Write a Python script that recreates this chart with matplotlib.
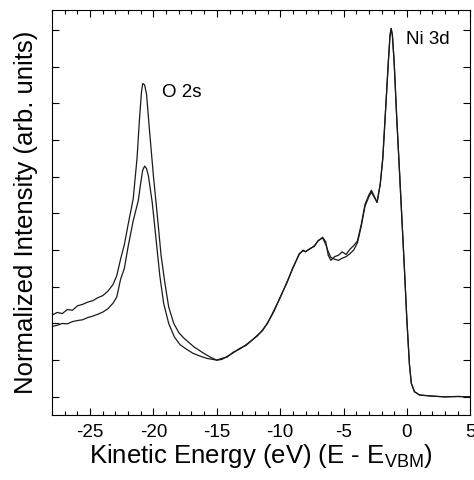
import numpy as np
import matplotlib
matplotlib.use("Agg")
import matplotlib.pyplot as plt
from matplotlib.ticker import MultipleLocator

plt.rcParams['font.family'] = ['Liberation Sans', 'DejaVu Sans']
plt.rcParams['mathtext.fontset'] = 'custom'
plt.rcParams['mathtext.rm'] = 'Liberation Sans'
plt.rcParams['axes.unicode_minus'] = False

# O 2s region, spectrum with the larger O 2s peak
o2s_energy_a = [-28.0, -27.6, -27.2, -26.8, -26.4, -26.0, -25.6, -25.2, -24.8, -24.4,
                -24.0, -23.6, -23.2, -22.9, -22.6, -22.3, -22.0, -21.6, -21.3, -21.1,
                -20.95, -20.85, -20.7, -20.55, -20.3, -20.0, -19.7, -19.4, -19.1, -18.8,
                -18.4, -18.0, -17.6, -17.2, -16.8, -16.4, -16.0, -15.5]
o2s_int_a = [2.23, 2.30, 2.27, 2.38, 2.36, 2.48, 2.52, 2.58, 2.62, 2.70,
             2.76, 2.88, 3.06, 3.30, 3.75, 4.15, 4.70, 5.40, 6.50, 7.60,
             8.30, 8.54, 8.50, 8.25, 7.20, 6.00, 4.95, 3.85, 3.10, 2.45,
             2.00, 1.75, 1.60, 1.48, 1.36, 1.27, 1.18, 1.08]

# O 2s region, spectrum with the smaller O 2s peak
o2s_energy_b = [-28.0, -27.6, -27.2, -26.8, -26.4, -26.0, -25.6, -25.2, -24.8, -24.4,
                -24.0, -23.6, -23.2, -22.9, -22.6, -22.3, -22.0, -21.6, -21.2, -21.0,
                -20.85, -20.7, -20.55, -20.4, -20.1, -19.8, -19.5, -19.2, -18.8, -18.35,
                -17.9, -17.4, -16.9, -16.4, -15.8]
o2s_int_b = [1.92, 1.95, 2.00, 1.99, 2.05, 2.08, 2.10, 2.16, 2.20, 2.25,
             2.31, 2.40, 2.55, 2.72, 3.20, 3.50, 4.10, 4.80, 5.35, 5.85,
             6.18, 6.29, 6.22, 6.02, 5.30, 4.30, 3.30, 2.55, 2.00, 1.63,
             1.42, 1.30, 1.19, 1.12, 1.05]

# valence band region (both spectra nearly identical)
vb_energy = [-15.0, -14.6, -14.2, -13.7, -13.2, -12.7, -12.2, -11.8, -11.4, -11.0,
             -10.5, -10.0, -9.5, -9.0, -8.5, -8.2, -8.0, -7.7, -7.3, -7.0,
             -6.65, -6.4, -6.2, -6.0, -5.7, -5.4, -5.1, -4.8, -4.5, -4.2,
             -3.9, -3.6, -3.3, -3.0, -2.8, -2.55, -2.35, -2.1, -1.9, -1.65,
             -1.45, -1.33, -1.24, -1.14, -1.0, -0.8, -0.6, -0.4, -0.2, 0.0,
             0.1, 0.2, 0.35, 0.6, 1.0, 2.0, 3.0, 4.0, 5.0]
vb_int_a = [1.00, 1.05, 1.08, 1.22, 1.30, 1.42, 1.55, 1.66, 1.82, 2.00,
            2.35, 2.70, 3.10, 3.50, 3.90, 3.98, 3.96, 4.02, 4.12, 4.25,
            4.35, 4.22, 3.85, 3.72, 3.82, 3.86, 3.95, 3.88, 4.02, 4.12,
            4.25, 4.70, 5.25, 5.50, 5.63, 5.45, 5.30, 5.80, 6.50, 8.00,
            9.20, 9.85, 10.04, 9.85, 9.10, 7.60, 6.27, 4.90, 3.54, 2.10,
            1.50, 0.90, 0.37, 0.14, 0.05, 0.02, 0.00, 0.01, 0.00]
vb_int_b = [1.00, 1.02, 1.10, 1.20, 1.32, 1.40, 1.55, 1.68, 1.80, 2.02,
            2.32, 2.72, 3.08, 3.52, 3.88, 4.00, 3.95, 4.03, 4.10, 4.26,
            4.33, 4.15, 3.95, 3.80, 3.75, 3.72, 3.78, 3.82, 3.90, 4.00,
            4.20, 4.65, 5.20, 5.45, 5.58, 5.42, 5.30, 5.80, 6.50, 8.00,
            9.20, 9.85, 10.04, 9.85, 9.10, 7.60, 6.27, 4.90, 3.54, 2.10,
            1.50, 0.90, 0.37, 0.14, 0.05, 0.02, 0.00, 0.01, 0.00]

energy_a = np.concatenate([o2s_energy_a, vb_energy])
intensity_a = np.concatenate([o2s_int_a, vb_int_a])
energy_b = np.concatenate([o2s_energy_b, vb_energy])
intensity_b = np.concatenate([o2s_int_b, vb_int_b])

fig = plt.figure(figsize=(4.74, 4.80), dpi=100)
ax = fig.add_axes([0.110, 0.135, 0.882, 0.844])

ax.plot(energy_a, intensity_a, color='#1a1a1a', lw=0.9)
ax.plot(energy_b, intensity_b, color='#1a1a1a', lw=0.9)

ax.set_xlim(-28, 5)
ax.set_ylim(-0.5, 10.54)
ax.xaxis.set_major_locator(MultipleLocator(5))
ax.xaxis.set_minor_locator(MultipleLocator(1))
ax.yaxis.set_major_locator(MultipleLocator(1))
ax.set_yticklabels([])
ax.tick_params(which='both', direction='in', top=True, right=True, width=0.8)
ax.tick_params(which='major', length=5, labelsize=13.5, pad=6)
ax.tick_params(which='minor', length=3)
for s in ax.spines.values():
    s.set_linewidth(0.8)

ax.set_xlabel('Kinetic Energy (eV) (E - E$_{\\rm VBM}$)', fontsize=18.5, labelpad=1)
ax.set_ylabel('Normalized Intensity (arb. units)', fontsize=18.5, labelpad=4)

ax.text(-19.3, 8.3, 'O 2s', fontsize=13.5, va='center')
ax.text(-0.05, 9.75, 'Ni 3d', fontsize=13.5, va='center')

fig.savefig('out.png', dpi=100)
